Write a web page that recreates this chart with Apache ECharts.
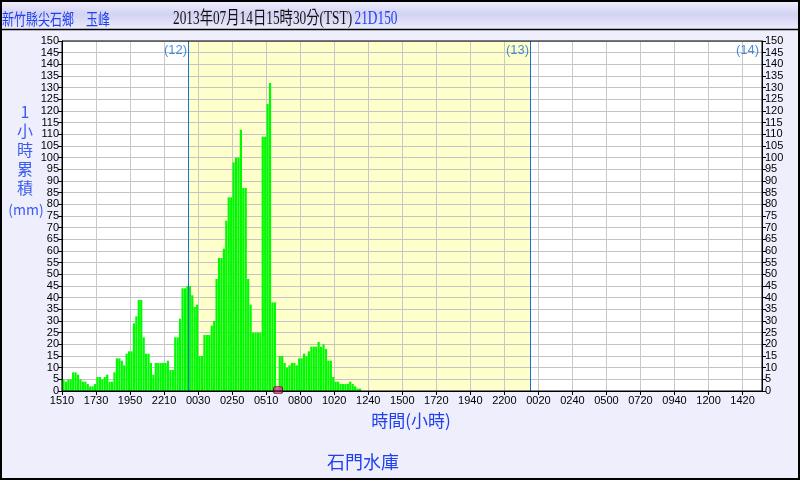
<!DOCTYPE html>
<html>
<head>
<meta charset="utf-8">
<script src="https://cdn.jsdelivr.net/npm/echarts@6/dist/echarts.min.js"></script>
<style>
html,body{margin:0;padding:0;background:#eeeefc;}
#c{width:800px;height:480px;}
</style>
</head>
<body>
<div id="c"></div>
<script>
// ---- data ----
const xTickLabels = ['1510','1730','1950','2210','0030','0250','0510','0800','1020','1240','1500','1720','1940','2200','0020','0240','0500','0720','0940','1200','1420'];
const slotCount = 288;          // 10-minute slots across the axis
const tickEvery = 14;           // slots between labelled ticks
const rainfall = [
  5,4,5,5,8,8,7,5,4,4,3,2,2,3,6,6,5,6,7,4,
  4,8,14,14,13,11,16,17,17,29,32,39,39,23,16,16,12,7,12,12,
  12,12,12,13,9,9,23,23,31,44,44,45,45,41,36,37,15,15,24,24,
  24,28,30,48,57,57,61,73,83,83,98,100,100,112,87,87,48,37,25,25,
  25,25,109,109,123,132,38,38,0,15,15,12,10,11,12,12,11,14,14,16,
  15,17,19,19,19,21,19,20,18,13,13,6,4,4,3,3,3,3,4,3,
  2,1,1
];
const dayLines = [51.85, 192.6];
const dayLabels = [['(12)', 51.85], ['(13)', 192.6], ['(14)', 287.2]];
const markerSlot = [88.9];
const yMax = 150, yStep = 5;

const titleLeft = '新竹縣尖石鄉　玉峰';
const titleMain = '2013年07月14日15時30分(TST)';
const titleCode = '21D150';
const yNameChars = ['1','小','時','累','積'];
const yUnit = '(mm)';
const xName = '時間(小時)';
const footer = '石門水庫';

const chart = echarts.init(document.getElementById('c'), null, {renderer:'canvas'});
const latin = 'Liberation Sans, Arial, sans-serif';
const cjk = '"Noto Sans CJK TC", "Noto Sans CJK SC", sans-serif';
const blue = '#1f3ff0';

const yAxisCommon = {
  type:'value', min:0, max:yMax, interval:yStep,
  axisLine:{show:true, lineStyle:{color:'#000', width:1}},
  axisTick:{show:true, length:4, lineStyle:{color:'#000'}},
  axisLabel:{color:'#000', fontSize:11, fontFamily:latin, margin:3},
  splitLine:{show:false}
};

const option = {
  backgroundColor:'#eeeefc',
  animation:false,
  grid:{left:62, right:38, top:41, bottom:89, show:false},
  xAxis:{
    type:'value', min:0, max:slotCount, interval:tickEvery,
    axisLine:{show:true, onZero:false, lineStyle:{color:'#000'}},
    axisTick:{show:true, length:4, lineStyle:{color:'#000'}},
    axisLabel:{color:'#000', fontSize:11, fontFamily:latin, margin:4, showMaxLabel:false,
      formatter:(v)=>{ const k=v/tickEvery; return Number.isInteger(k) && xTickLabels[k] ? xTickLabels[k] : ''; }},
    splitLine:{show:true, lineStyle:{color:'#c8c8c8', width:1}}
  },
  yAxis:[
    Object.assign({}, yAxisCommon, {position:'left', splitLine:{show:true, lineStyle:{color:'#c4c4c4', width:1}}}),
    Object.assign({}, yAxisCommon, {position:'right'})
  ],
  series:[
    {
      type:'custom', z:-1, silent:true,
      renderItem:(params, api)=>{
        const p0 = api.coord([api.value(0), yMax]);
        const p1 = api.coord([api.value(1), 0]);
        return {type:'rect', shape:{x:p0[0], y:p0[1], width:p1[0]-p0[0], height:p1[1]-p0[1]}, style:{fill:'#ffffcc'}};
      },
      encode:{x:[0,1], y:[]},
      data:[[dayLines[0], dayLines[1]]]
    },
    {
      type:'bar', barWidth:2.2, itemStyle:{color:'#00fa00'},
      data: rainfall.map((v,i)=>[i+0.6, v]),
      markLine:{
        silent:true, symbol:'none', label:{show:false},
        lineStyle:{color:'#1a6fd6', type:'solid', width:1},
        data: dayLines.map(d=>({xAxis:d}))
      }
    },
    {
      type:'scatter', symbolSize:0, silent:true,
      data: dayLabels.map(d=>({value:[d[1], 145.8], name:d[0]})),
      label:{show:true, position:'left', distance:1, formatter:(p)=>p.name, color:'#1a6fd6', fontSize:13, fontFamily:latin}
    },
    {
      type:'scatter', symbol:'roundRect', symbolSize:[9,7], silent:true,
      itemStyle:{color:'#e03a88', borderColor:'#5a1030', borderWidth:1},
      data: markerSlot.map(s=>[s, 0.4])
    }
  ]
};
chart.setOption(option);

// plot frame and white background, derived from the axes
const tl = chart.convertToPixel({gridIndex:0}, [0, yMax]);
const br = chart.convertToPixel({gridIndex:0}, [slotCount, 0]);
const yNameTexts = yNameChars.map((ch, i)=>({
  type:'text', z:10, x:25, y:112 + i*19, silent:true,
  style:{text:ch, fill:'#3a5cf0', font:'16px '+cjk, align:'center', verticalAlign:'middle'}
}));
chart.setOption({
  graphic:[
    {type:'rect', z:-10, silent:true, shape:{x:tl[0], y:tl[1], width:br[0]-tl[0], height:br[1]-tl[1]}, style:{fill:'#ffffff'}},
    {type:'rect', z:10, silent:true, shape:{x:tl[0], y:tl[1], width:br[0]-tl[0], height:br[1]-tl[1]}, style:{fill:'none', stroke:'#000', lineWidth:1}},
    // title bar
    {type:'rect', z:-10, silent:true, shape:{x:0, y:0, width:800, height:29},
      style:{fill:new echarts.graphic.LinearGradient(0,0,0,1,[{offset:0,color:'#f2f2fd'},{offset:0.5,color:'#d2d2f3'},{offset:1,color:'#ececfb'}])}},
    {type:'line', z:10, silent:true, shape:{x1:0, y1:29.5, x2:800, y2:29.5}, style:{stroke:'#000', lineWidth:1.5}},
    {type:'rect', z:20, silent:true, shape:{x:1, y:1, width:798, height:478}, style:{fill:'none', stroke:'#000', lineWidth:2}},
    {type:'text', z:10, x:2, y:19, scaleX:0.75, silent:true, style:{text:titleLeft, fill:blue, font:'16px '+cjk, verticalAlign:'middle'}},
    {type:'text', z:10, x:173, y:19, scaleX:0.74, silent:true, style:{
      text:'{m|'+titleMain+'} {c|'+titleCode+'}', verticalAlign:'middle',
      rich:{m:{fill:'#111', font:'18px "Liberation Serif", '+cjk}, c:{fill:blue, font:'18px "Liberation Serif", serif'}}
    }},
    ...yNameTexts,
    {type:'text', z:10, x:26, y:210, silent:true, style:{text:yUnit, fill:'#3a5cf0', font:'14px '+cjk, align:'center', verticalAlign:'middle'}},
    {type:'text', z:10, x:411, y:421, silent:true, style:{text:xName, fill:blue, font:'17px '+cjk, align:'center', verticalAlign:'middle'}},
    {type:'text', z:10, x:363, y:462, silent:true, style:{text:footer, fill:blue, font:'18px '+cjk, align:'center', verticalAlign:'middle'}}
  ]
});
</script>
</body>
</html>
